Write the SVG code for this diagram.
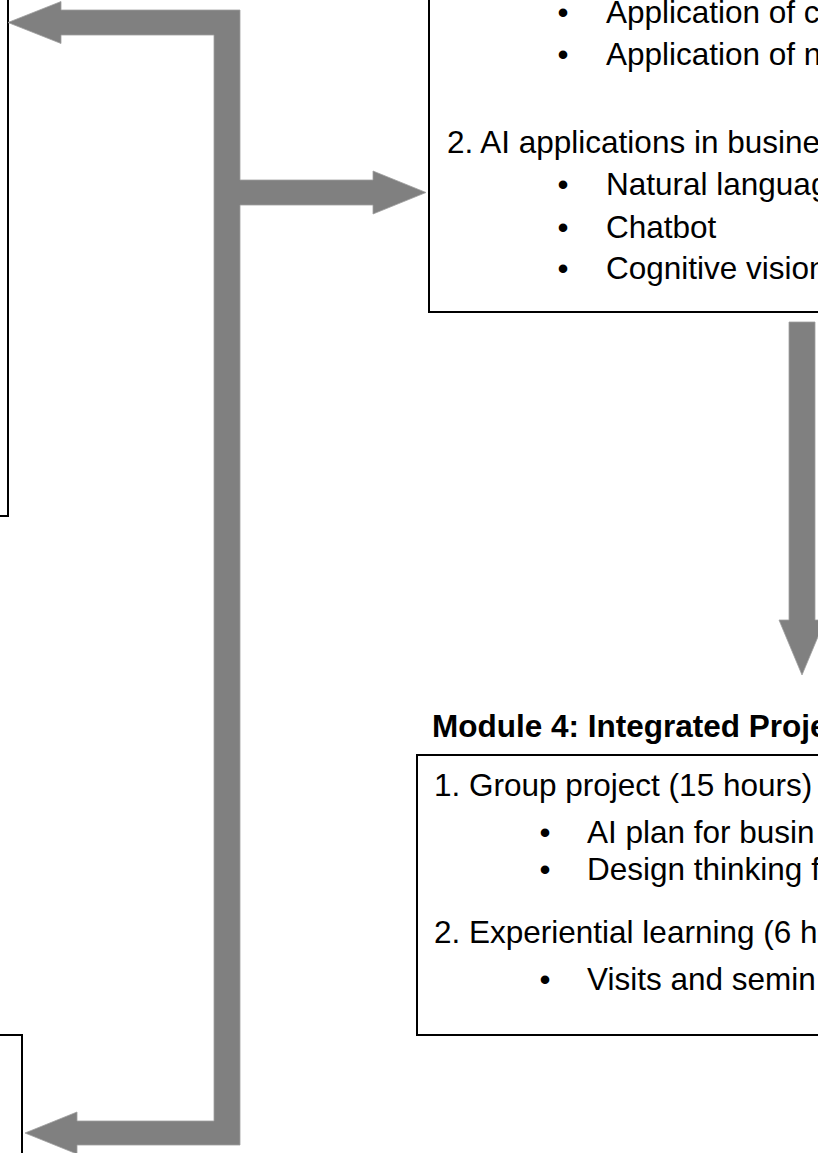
<svg xmlns="http://www.w3.org/2000/svg" width="818" height="1153" viewBox="0 0 818 1153">
<style>
.box{fill:#fff;stroke:#000;stroke-width:2}
.t{font-family:"Liberation Sans",Arial,sans-serif;font-size:31.5px;fill:#000}
.b{font-weight:bold}
.bul{text-anchor:middle}
.arr{fill:#808080;stroke:#a0a0a0;stroke-width:0.8;stroke-linejoin:miter}
</style>
<rect width="818" height="1153" fill="#fff"/>
<g id="node-left-top"><rect class="box" x="-20" y="-20" width="28" height="536"/></g>
<g id="node-left-bottom"><rect class="box" x="-20" y="1035" width="42" height="200"/></g>
<g id="node-module3">
<rect class="box" x="429" y="-20" width="500" height="332"/>
<text class="t bul" x="563" y="23">•</text><text class="t" x="606" y="23">Application of c</text>
<text class="t bul" x="563" y="65">•</text><text class="t" x="606" y="65">Application of n</text>
<text class="t" x="447" y="153">2. AI applications in busine</text>
<text class="t bul" x="563" y="195">•</text><text class="t" x="606" y="195">Natural languag</text>
<text class="t bul" x="563" y="238">•</text><text class="t" x="606" y="238">Chatbot</text>
<text class="t bul" x="563" y="279">•</text><text class="t" x="606" y="279">Cognitive vision</text>
</g>
<g id="node-module4">
<text class="t b" x="432" y="737">Module 4: Integrated Proje</text>
<rect class="box" x="417" y="755" width="500" height="280"/>
<text class="t" x="434" y="796">1. Group project (15 hours)</text>
<text class="t bul" x="545" y="843">•</text><text class="t" x="587" y="843">AI plan for busin</text>
<text class="t bul" x="545" y="880">•</text><text class="t" x="587" y="880">Design thinking f</text>
<text class="t" x="434" y="943">2. Experiential learning (6 h</text>
<text class="t bul" x="545" y="990">•</text><text class="t" x="587" y="990">Visits and semin</text>
</g>
<g id="connectors">
<polygon class="arr" points="240,10 61,10 61,1.5 8,22.5 61,43.5 61,35 214,35 214,1121 77,1121 77,1112 25,1133 77,1154 77,1145 240,1145 240,205 373,205 373,214 426,192.5 373,171 373,180 240,180"/>
<polygon class="arr" points="789,322 815,322 815,620 825,620 802,675 779,620 789,620"/>
</g>
</svg>
